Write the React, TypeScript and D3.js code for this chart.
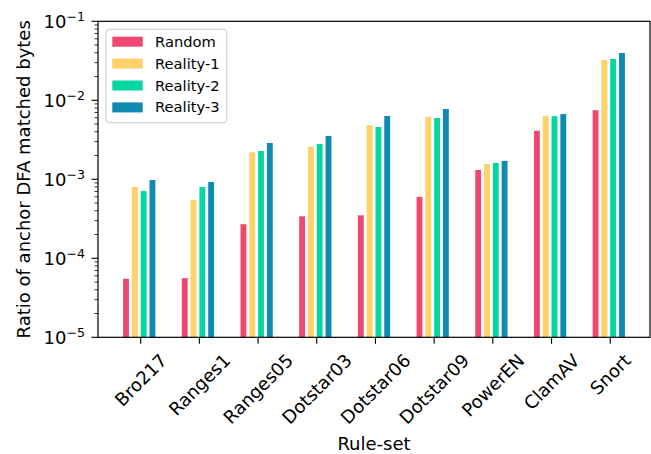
import React, { useEffect, useRef } from "react";
import * as d3 from "d3";

const categories = ["Bro217", "Ranges1", "Ranges05", "Dotstar03", "Dotstar06", "Dotstar09", "PowerEN", "ClamAV", "Snort"];
const seriesNames = ["Random", "Reality-1", "Reality-2", "Reality-3"];
const randomVals = [5.5e-5, 5.6e-5, 2.7e-4, 3.4e-4, 3.5e-4, 6.0e-4, 1.31e-3, 4.1e-3, 7.5e-3];
const reality1Vals = [8.0e-4, 5.5e-4, 2.2e-3, 2.57e-3, 4.87e-3, 6.15e-3, 1.56e-3, 6.3e-3, 3.23e-2];
const reality2Vals = [7.1e-4, 8.0e-4, 2.28e-3, 2.8e-3, 4.6e-3, 5.97e-3, 1.61e-3, 6.3e-3, 3.33e-2];
const reality3Vals = [9.8e-4, 9.25e-4, 2.88e-3, 3.53e-3, 6.32e-3, 7.76e-3, 1.71e-3, 6.7e-3, 3.97e-2];
const colors = ["#ef476f", "#ffd166", "#06d6a0", "#118ab2"];
const yTickExps = [-5, -4, -3, -2, -1];

const W = 651;
const H = 454;
const FONT = "DejaVu Sans";

export default function App() {
  const ref = useRef<SVGSVGElement | null>(null);

  useEffect(() => {
    const svg = d3.select(ref.current);
    svg.selectAll("*").remove();

    const left = 98, right = 650, top = 21.3, bottom = 337.3;
    const barW = 0.1, step = 0.15, off0 = -0.3;
    const nCat = categories.length;
    const dataMin = off0, dataMax = nCat - 1 + off0 + 3 * step + barW;
    const pad = (dataMax - dataMin) * 0.05;
    const x = d3.scaleLinear().domain([dataMin - pad, dataMax + pad]).range([left, right]);
    const y = d3.scaleLog().domain([1e-5, 1e-1]).range([bottom, top]);

    const allSeries = [randomVals, reality1Vals, reality2Vals, reality3Vals];

    // bars
    allSeries.forEach((vals, si) => {
      svg.append("g")
        .selectAll("rect")
        .data(vals)
        .join("rect")
        .attr("x", (_d, i) => x(i + off0 + si * step))
        .attr("width", x(barW) - x(0))
        .attr("y", (d) => y(d))
        .attr("height", (d) => bottom - y(d))
        .attr("fill", colors[si]);
    });

    // frame
    svg.append("rect")
      .attr("x", left).attr("y", top)
      .attr("width", right - left).attr("height", bottom - top)
      .attr("fill", "none").attr("stroke", "#000").attr("stroke-width", 1.2);

    // y ticks
    const gy = svg.append("g");
    for (let e = -5; e <= -1; e++) {
      for (let m = 2; m <= 9; m++) {
        if (e === -1) continue;
        const v = m * Math.pow(10, e);
        gy.append("line")
          .attr("x1", left - 3.5).attr("x2", left)
          .attr("y1", y(v)).attr("y2", y(v))
          .attr("stroke", "#000").attr("stroke-width", 0.8);
      }
    }
    yTickExps.forEach((e) => {
      const yy = y(Math.pow(10, e));
      gy.append("line")
        .attr("x1", left - 6.5).attr("x2", left)
        .attr("y1", yy).attr("y2", yy)
        .attr("stroke", "#000").attr("stroke-width", 1.1);
      const t = gy.append("text")
        .attr("x", 85).attr("y", yy + 6.8)
        .attr("text-anchor", "end")
        .attr("font-family", FONT).attr("font-size", 18).attr("fill", "#000");
      t.append("tspan").text("10");
      t.append("tspan").attr("font-size", 12.6).attr("dy", -7.5).text("\u2212" + Math.abs(e));
    });

    // x ticks and labels
    const gx = svg.append("g");
    categories.forEach((c, i) => {
      const cx = x(i);
      gx.append("line")
        .attr("x1", cx).attr("x2", cx)
        .attr("y1", bottom).attr("y2", bottom + 6.5)
        .attr("stroke", "#000").attr("stroke-width", 1.1);
      const t = gx.append("text")
        .attr("text-anchor", "middle")
        .attr("font-family", FONT).attr("font-size", 18).attr("fill", "#000")
        .attr("dy", "0.36em")
        .text(c);
      const L = (t.node() as SVGTextElement).getComputedTextLength();
      const cy = 352.5 + (L + 13.1) * 0.3536;
      t.attr("transform", `translate(${cx},${cy}) rotate(-45)`);
    });

    // axis labels
    svg.append("text")
      .attr("x", (left + right) / 2).attr("y", 449.5)
      .attr("text-anchor", "middle")
      .attr("font-family", FONT).attr("font-size", 18).attr("fill", "#000")
      .text("Rule-set");
    svg.append("text")
      .attr("transform", `translate(29.5,${(top + bottom) / 2}) rotate(-90)`)
      .attr("text-anchor", "middle")
      .attr("font-family", FONT).attr("font-size", 18).attr("fill", "#000")
      .text("Ratio of anchor DFA matched bytes");

    // legend
    const lg = svg.append("g");
    lg.append("rect")
      .attr("x", 106).attr("y", 29.3).attr("width", 120.7).attr("height", 93.4)
      .attr("rx", 3).attr("ry", 3)
      .attr("fill", "#fff").attr("fill-opacity", 0.8)
      .attr("stroke", "#cccccc").attr("stroke-width", 1);
    seriesNames.forEach((n, i) => {
      const ry = 36.7 + i * 21.9;
      lg.append("rect")
        .attr("x", 112.3).attr("y", ry).attr("width", 30.4).attr("height", 10)
        .attr("fill", colors[i]);
      lg.append("text")
        .attr("x", 155).attr("y", ry + 10)
        .attr("font-family", FONT).attr("font-size", 14.7).attr("fill", "#000")
        .text(n);
    });
  }, []);

  return (
    <svg
      ref={ref}
      width={W}
      height={H}
      style={{ position: "absolute", left: 0, top: 0, background: "#fff" }}
    />
  );
}
